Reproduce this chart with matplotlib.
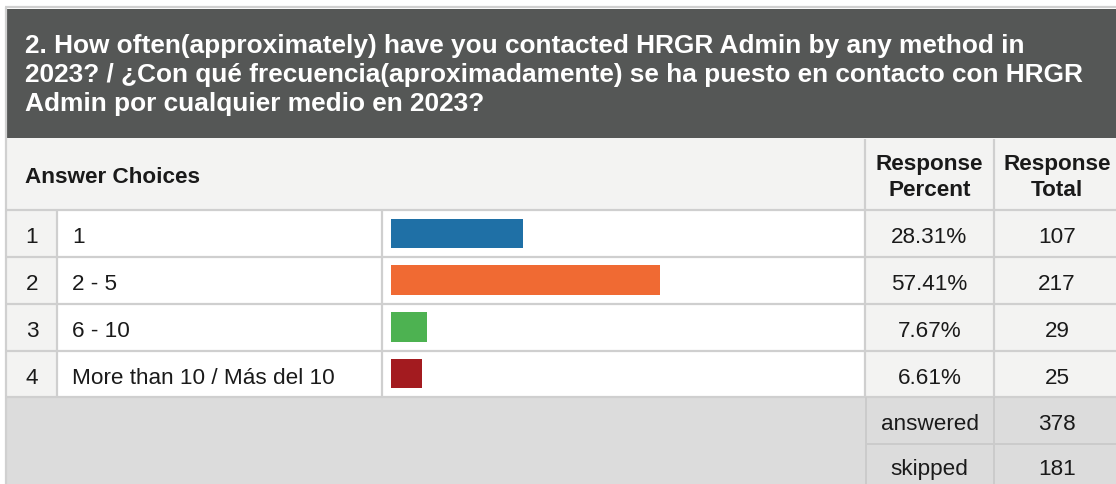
import matplotlib
matplotlib.use("Agg")
import matplotlib.pyplot as plt
from matplotlib.patches import Rectangle

# --- survey data -------------------------------------------------------
question_lines = [
    "2. How often(approximately) have you contacted HRGR Admin by any method in",
    "2023? / ¿Con qué frecuencia(aproximadamente) se ha puesto en contacto con HRGR",
    "Admin por cualquier medio en 2023?",
]
row_numbers = ["1", "2", "3", "4"]
choices = ["1", "2 - 5", "6 - 10", "More than 10 / Más del 10"]
percents = [28.31, 57.41, 7.67, 6.61]
totals = [107, 217, 29, 25]
answered = 378
skipped = 181
bar_colors = ["#1f70a6", "#f06a33", "#4db251", "#a31b1f"]

# --- figure / pixel canvas ---------------------------------------------
W, H = 1116, 485
fig = plt.figure(figsize=(W / 100, H / 100), dpi=100)
fig.patch.set_facecolor("white")
ax = fig.add_axes([0, 0, 1, 1])
ax.set_xlim(0, W)
ax.set_ylim(H, 0)
ax.axis("off")

FONT = "Liberation Sans"
BORDER = "#cfcfcf"
CELL_GRAY = "#f3f3f2"
FOOT_GRAY = "#dcdcdc"
TXT = "#1a1a1a"
FS = 16.2          # body text size
FS_TITLE = 18.9    # banner text size

# column edges and row edges (pixels)
x_left, x_num, x_choice, x_bar, x_pct, x_tot, x_right = 5, 57, 382, 865, 865, 994, 1130
y_top, y_title_bot, y_head_bot = 8, 139, 211
row_edges = [211, 258, 305, 352, 398]
y_answered, y_skipped, y_bottom = 398, 445, 492
x_pct_c = (x_pct + x_tot) / 2
x_tot_c = 1057
BASE_OFF = 9       # baseline offset below a row's centre


def rect(x0, y0, x1, y1, color, z=1):
    ax.add_patch(Rectangle((x0, y0), x1 - x0, y1 - y0, facecolor=color,
                           edgecolor="none", zorder=z))


def hline(y, x0, x1, color=BORDER, lw=1.6, z=3):
    ax.plot([x0, x1], [y, y], color=color, lw=lw, zorder=z, solid_capstyle="butt")


def vline(x, y0, y1, color=BORDER, lw=1.6, z=3):
    ax.plot([x, x], [y0, y1], color=color, lw=lw, zorder=z, solid_capstyle="butt")


def put(x, y, s, ha="left", bold=False, color=TXT, size=FS):
    ax.text(x, y, s, fontsize=size, family=FONT, color=color, ha=ha,
            va="baseline", fontweight="bold" if bold else "normal", zorder=5)


# outer frame
hline(y_top, x_left, x_right, color="#d0d0d0", lw=1.6)
vline(x_left + 0.5, y_top, y_bottom, color="#d0d0d0", lw=1.6)

# question banner
rect(x_left + 2, y_top + 2, x_right, y_title_bot, "#555756")
for i, line in enumerate(question_lines):
    put(25, 53.5 + i * 28.6, line, bold=True, color="white", size=FS_TITLE)

# header row
rect(x_left + 1, y_title_bot, x_right, y_head_bot, CELL_GRAY)
vline(x_pct, y_title_bot + 1, y_head_bot)
vline(x_tot, y_title_bot + 1, y_head_bot)
put(25, 183.5, "Answer Choices", bold=True)
for xc, (l1, l2) in [(x_pct_c, ("Response", "Percent")),
                     (x_tot_c, ("Response", "Total"))]:
    put(xc, 170.5, l1, ha="center", bold=True)
    put(xc, 196.5, l2, ha="center", bold=True)

# data rows
for i in range(len(choices)):
    y0, y1 = row_edges[i], row_edges[i + 1]
    yb = (y0 + y1) / 2 + BASE_OFF
    rect(x_left + 1, y0, x_num, y1, CELL_GRAY)
    rect(x_num, y0, x_bar, y1, "white")
    rect(x_pct, y0, x_right, y1, CELL_GRAY)
    put((x_left + x_num) / 2 + 1, yb, row_numbers[i], ha="center")
    put(72, yb, choices[i])
    put(x_pct_c, yb, f"{percents[i]:.2f}%", ha="center")
    put(x_tot_c, yb, f"{totals[i]}", ha="center")

for y in row_edges:
    hline(y, x_left, x_right)
for x in (x_num, x_choice, x_pct, x_tot):
    vline(x, row_edges[0], row_edges[-1])

# footer summary
rect(x_left + 1, y_answered + 1, x_right, H, FOOT_GRAY)
hline(y_skipped, x_pct, x_right, color="#cbcbcb", lw=1.4)
vline(x_pct + 1, y_answered, H, color="#cbcbcb", lw=1.4)
vline(x_tot, y_answered, H, color="#cbcbcb", lw=1.4)
for yb, label, val in [(430.5, "answered", answered), (475.5, "skipped", skipped)]:
    put(x_pct_c, yb, label, ha="center")
    put(x_tot_c, yb, f"{val}", ha="center")

# bar column: its own axes with a 0-100 % scale
bar_x0, bar_w = 391, 468
bax = fig.add_axes([bar_x0 / W, (H - row_edges[-1]) / H,
                    bar_w / W, (row_edges[-1] - row_edges[0]) / H])
bax.patch.set_alpha(0)
bax.barh(range(len(percents)), percents, height=0.63, color=bar_colors,
         edgecolor="none", zorder=4)
bax.set_xlim(0, 100)
bax.set_ylim(len(percents) - 0.5, -0.5)
bax.axis("off")

fig.savefig("out.png", dpi=100, facecolor="white")
